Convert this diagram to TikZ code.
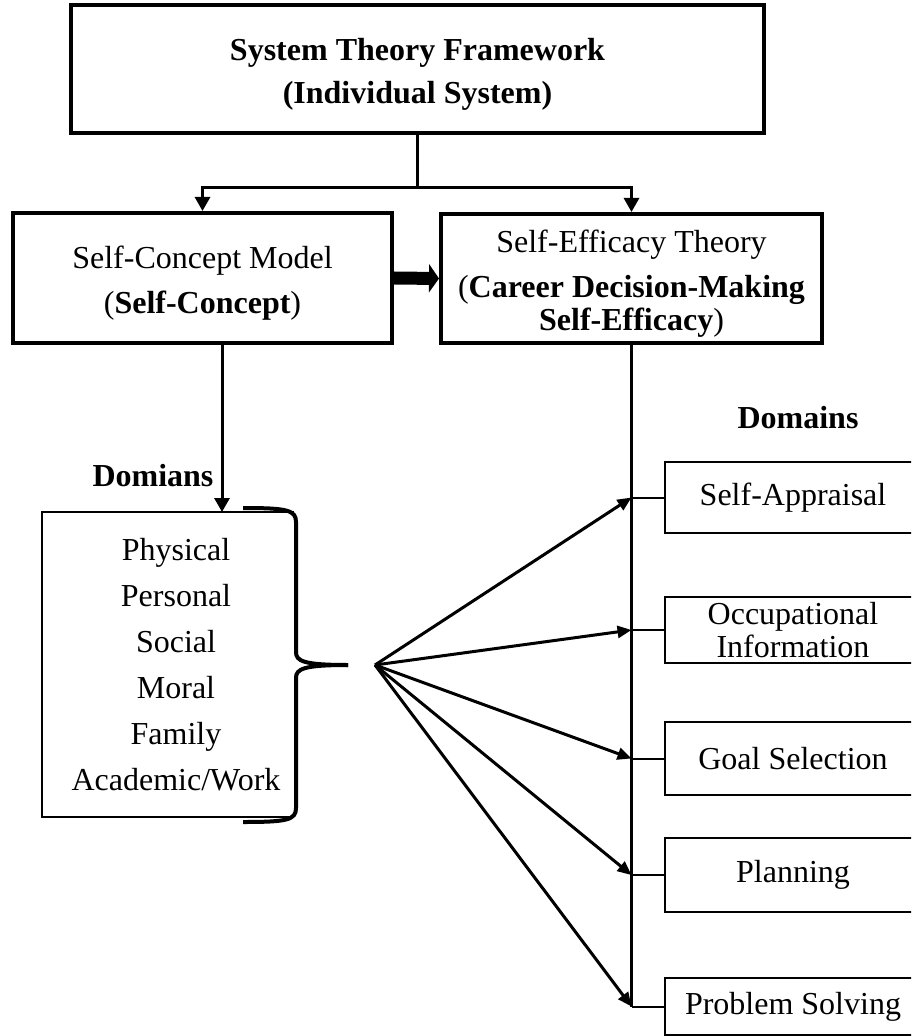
\documentclass[tikz,border=0pt]{standalone}
\usepackage{fontspec}
\setmainfont{Liberation Serif}
\usetikzlibrary{arrows.meta,calc}
\usepackage{xcolor}
\definecolor{ink}{RGB}{0,0,0}

\begin{document}
\begin{tikzpicture}[x=0.5pt,y=-0.5pt,font=\fontsize{16}{16.5}\selectfont,
  frame/.style={draw=ink,line width=2pt,align=center,inner sep=0pt},
  domainbox/.style={draw=ink,line width=1pt,minimum width=128pt,inner sep=0pt,align=center},
  link/.style={draw=ink,line width=1.5pt,-{Triangle[length=7pt,width=7.5pt]}},
  fan/.style={draw=ink,line width=1.5pt,-{Triangle[length=7pt,width=6pt]}}]
  \useasboundingbox (0,0) rectangle (911,1036);
  \clip (0,0) rectangle (911,1036);
  % top row
  \node[frame,minimum width=346.5pt,minimum height=64pt,font=\fontsize{16}{21.5}\selectfont\bfseries] (system) at (417.5,69){\rule{0pt}{16pt}System Theory Framework\\(Individual System)};
  \node[frame,minimum width=189.5pt,minimum height=65pt] (concept) at (202.5,278){\rule{0pt}{16pt}Self-Concept Model\\[6pt](\textbf{Self-Concept})};
  \node[frame,minimum width=190.5pt,minimum height=64.5pt] (efficacy) at (631.5,278.5){\rule{0pt}{16pt}Self-Efficacy Theory\\[6pt](\textbf{Career Decision-Making}\\\textbf{Self-Efficacy})};
  \coordinate (split) at (417.5,188);
  \draw[ink,line width=1.5pt] (system.south) -- (split);
  \draw[link] (split) -| (concept.north);
  \draw[link] (split) -| (efficacy.north);
  \draw[ink,line width=6.5pt,-{Triangle[length=5pt,width=14pt]}] (concept.east) -- (efficacy.west);
  % left domains
  \coordinate (drop) at (222,512);
  \draw[link] (concept.south -| drop) -- (drop);
  \node[font=\fontsize{16}{16.5}\selectfont\bfseries] (domiansl) at (153,476){Domians};
  \node[align=center,font=\fontsize{16}{23}\selectfont] (domlist) at (176,665){Physical\\Personal\\Social\\Moral\\Family\\Academic/Work};
  \draw[ink,line width=1pt] (294,512) -| (42,817) -- (294,817);
  \draw[ink,line width=2pt] (243,508) .. controls (287,508) and (296,510) .. (296,522) -- (296,652) .. controls (296,661) and (303,665) .. (348,665);
  \draw[ink,line width=2pt] (243,822) .. controls (287,822) and (296,820) .. (296,808) -- (296,678) .. controls (296,669) and (303,665) .. (348,665);
  \coordinate (fanroot) at (375,665);
  % right domains
  \node[font=\fontsize{16}{16.5}\selectfont\bfseries] (domainsr) at (798,418){Domains};
  \foreach \y/\h/\name/\txt in {497.5/71/appr/Self-Appraisal,630/66/occ/{Occupational\\Information},758.5/73/goal/Goal Selection,875/74/plan/Planning,1006.5/57/solve/Problem Solving}{
    \node[domainbox,minimum height=\h*0.5pt] (\name) at (793,\y){\txt};
    \draw[fan] (fanroot) -- (efficacy.south |- \name.west);
    \draw[ink,line width=1pt] (efficacy.south |- \name.west) -- (\name.west);
  }
  \draw[ink,line width=1.2pt] (efficacy.south) -- (efficacy.south |- solve.west);
\end{tikzpicture}
\end{document}
